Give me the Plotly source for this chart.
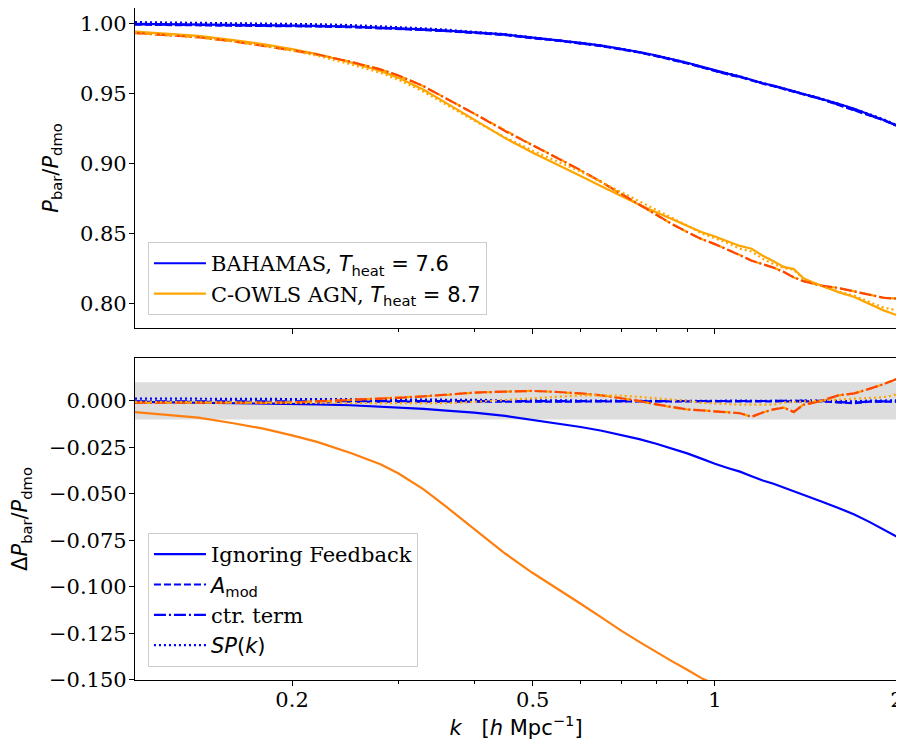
import numpy as np
import plotly.graph_objects as go

# ---------------- data ----------------
k = [0.11, 0.125, 0.14, 0.16, 0.18, 0.2, 0.22, 0.25, 0.28, 0.3, 0.33, 0.36, 0.4, 0.45,
     0.5, 0.55, 0.6, 0.65, 0.7, 0.75, 0.8, 0.85, 0.9, 0.95, 1.0, 1.05, 1.1, 1.15, 1.2,
     1.25, 1.3, 1.35, 1.4, 1.45, 1.5, 1.6, 1.7, 1.8, 1.9, 2.0]

# simulation ratios P_bar / P_dmo
bahamas_sim = [0.9995, 0.9993, 0.9992, 0.9990, 0.9988, 0.9985, 0.9982, 0.9977, 0.9970, 0.9965,
               0.9957, 0.9948, 0.9937, 0.9920, 0.9898, 0.9880, 0.9860, 0.9840, 0.9818, 0.9795,
               0.9770, 0.9745, 0.9718, 0.9690, 0.9662, 0.9640, 0.9620, 0.9595, 0.9572, 0.9555,
               0.9535, 0.9515, 0.9495, 0.9480, 0.9460, 0.9425, 0.9390, 0.9350, 0.9310, 0.9270]
cowls_sim = [0.9940, 0.9925, 0.9910, 0.9880, 0.9850, 0.9815, 0.9780, 0.9720, 0.9660, 0.9610,
             0.9525, 0.9430, 0.9310, 0.9180, 0.9075, 0.8990, 0.8910, 0.8835, 0.8765, 0.8705,
             0.8650, 0.8600, 0.8555, 0.8510, 0.8478, 0.8445, 0.8410, 0.8390, 0.8340, 0.8300,
             0.8260, 0.8245, 0.8180, 0.8150, 0.8125, 0.8080, 0.8045, 0.7995, 0.7950, 0.7915]

# residuals (model - simulation)
bahamas_amod = [-0.0005, -0.0005, -0.0004, -0.0005, -0.0005, -0.0004, -0.0005, -0.0005, -0.0004, -0.0005,
                -0.0005, -0.0004, -0.0005, -0.0004, -0.0005, -0.0004, -0.0005, -0.0004, -0.0005, -0.0004,
                -0.0005, -0.0004, -0.0005, -0.0004, -0.0005, -0.0006, -0.0004, -0.0005, -0.0003, -0.0005,
                -0.0004, -0.0005, -0.0003, -0.0004, -0.0002, -0.0008, -0.0012, -0.0004, -0.0003, -0.0004]
bahamas_ctr = [-0.0002, -0.0002, -0.0003, -0.0002, -0.0003, -0.0002, -0.0003, -0.0002, -0.0003, -0.0002,
               -0.0003, -0.0002, -0.0003, -0.0002, -0.0003, -0.0002, -0.0003, -0.0002, -0.0003, -0.0002,
               -0.0003, -0.0002, -0.0003, -0.0002, -0.0003, -0.0004, -0.0002, -0.0003, -0.0001, -0.0003,
               -0.0002, -0.0003, -0.0001, -0.0002, 0.0000, -0.0006, -0.0010, -0.0002, -0.0001, -0.0002]
bahamas_sp = [0.0013, 0.0013, 0.0012, 0.0012, 0.0012, 0.0011, 0.0011, 0.0010, 0.0009, 0.0008,
              0.0007, 0.0006, 0.0004, 0.0002, 0.0001, 0.0000, 0.0000, 0.0001, 0.0000, -0.0001,
              0.0000, 0.0001, 0.0000, -0.0001, 0.0000, 0.0002, 0.0001, 0.0000, 0.0002, 0.0001,
              0.0000, 0.0001, 0.0003, 0.0002, 0.0002, 0.0000, -0.0002, 0.0002, 0.0004, 0.0003]
cowls_amod = [-0.0010, -0.0010, -0.0010, -0.0010, -0.0010, -0.0008, -0.0003, 0.0005, 0.0012, 0.0017,
              0.0025, 0.0032, 0.0045, 0.0050, 0.0054, 0.0048, 0.0040, 0.0030, 0.0015, 0.0000,
              -0.0018, -0.0035, -0.0046, -0.0050, -0.0055, -0.0060, -0.0065, -0.0086, -0.0062, -0.0045,
              -0.0035, -0.0060, -0.0020, -0.0010, 0.0000, 0.0030, 0.0040, 0.0065, 0.0090, 0.0120]
cowls_ctr = [-0.0009, -0.0010, -0.0010, -0.0009, -0.0010, -0.0008, -0.0003, 0.0005, 0.0011, 0.0017,
             0.0025, 0.0033, 0.0045, 0.0050, 0.0054, 0.0048, 0.0041, 0.0030, 0.0016, 0.0000,
             -0.0018, -0.0034, -0.0046, -0.0051, -0.0055, -0.0060, -0.0066, -0.0085, -0.0062, -0.0045,
             -0.0036, -0.0059, -0.0021, -0.0010, 0.0001, 0.0030, 0.0041, 0.0065, 0.0090, 0.0118]
cowls_sp = [-0.0005, -0.0005, -0.0007, -0.0008, -0.0010, -0.0010, -0.0012, -0.0013, -0.0014, -0.0014,
            -0.0014, -0.0012, -0.0005, 0.0005, 0.0015, 0.0022, 0.0030, 0.0030, 0.0028, 0.0022,
            0.0015, 0.0010, 0.0000, -0.0010, -0.0014, -0.0015, -0.0020, -0.0020, -0.0022, -0.0020,
            -0.0008, -0.0005, -0.0004, 0.0000, 0.0000, 0.0005, 0.0010, 0.0015, 0.0020, 0.0035]

top_yticks = [0.80, 0.85, 0.90, 0.95, 1.00]
bot_yticks = [0.0, -0.025, -0.05, -0.075, -0.1, -0.125, -0.15]
x_ticks = [0.2, 0.5, 1, 2]
x_ticklabels = ["0.2", "0.5", "1", "2"]
x_minor = [0.3, 0.4, 0.6, 0.7, 0.8, 0.9]

# ---------------- styles ----------------
BLUE = "#0000ff"
ORANGE = "#ffa500"
DORANGE = "#ff7f0e"
RED = "#ff4500"
DASH = "7px,3px"
DASHDOT = "12px,3px,2px,3px"
DOT = "2px,3px"
LW = 2.2
SERIF = "DejaVu Serif"
SANS = "DejaVu Sans"

kk = np.array(k)
bsim = np.array(bahamas_sim)
csim = np.array(cowls_sim)


def mspan(s):
    return f"<span style=\"font-family:'{SANS}'\">{s}</span>"


fig = go.Figure()

# ---------- top panel ----------
fig.add_trace(go.Scatter(x=kk, y=bsim, mode="lines", line=dict(color=BLUE, width=LW),
                         name="BAHAMAS, " + mspan("<i>T</i><sub>heat</sub> = 7.6"),
                         legend="legend", xaxis="x", yaxis="y"))
for res, dash in [(bahamas_amod, DASH), (bahamas_ctr, DASHDOT), (bahamas_sp, DOT)]:
    fig.add_trace(go.Scatter(x=kk, y=bsim + np.array(res), mode="lines",
                             line=dict(color=BLUE, width=LW, dash=dash),
                             showlegend=False, xaxis="x", yaxis="y"))
fig.add_trace(go.Scatter(x=kk, y=csim, mode="lines", line=dict(color=ORANGE, width=LW),
                         name="C-OWLS AGN, " + mspan("<i>T</i><sub>heat</sub> = 8.7"),
                         legend="legend", xaxis="x", yaxis="y"))
for res, dash, col in [(cowls_amod, DASH, ORANGE), (cowls_ctr, DASHDOT, RED), (cowls_sp, DOT, ORANGE)]:
    fig.add_trace(go.Scatter(x=kk, y=csim + np.array(res), mode="lines",
                             line=dict(color=col, width=LW, dash=dash),
                             showlegend=False, xaxis="x", yaxis="y"))

# ---------- bottom panel ----------
fig.add_trace(go.Scatter(x=kk, y=bsim - 1.0, mode="lines", line=dict(color=BLUE, width=LW),
                         showlegend=False, xaxis="x2", yaxis="y2"))
fig.add_trace(go.Scatter(x=kk, y=csim - 1.0, mode="lines", line=dict(color=DORANGE, width=LW),
                         showlegend=False, xaxis="x2", yaxis="y2"))
for res, dash in [(bahamas_amod, DASH), (bahamas_ctr, DASHDOT), (bahamas_sp, DOT)]:
    fig.add_trace(go.Scatter(x=kk, y=res, mode="lines", line=dict(color=BLUE, width=LW, dash=dash),
                             showlegend=False, xaxis="x2", yaxis="y2"))
for res, dash, col in [(cowls_amod, DASH, ORANGE), (cowls_ctr, DASHDOT, RED), (cowls_sp, DOT, ORANGE)]:
    fig.add_trace(go.Scatter(x=kk, y=res, mode="lines", line=dict(color=col, width=LW, dash=dash),
                             showlegend=False, xaxis="x2", yaxis="y2"))

# legend-only entries for bottom legend
for nm, dash in [("Ignoring Feedback", "solid"), (mspan("<i>A</i><sub>mod</sub>"), DASH),
                 ("ctr. term", DASHDOT), (mspan("<i>SP</i>(<i>k</i>)"), DOT)]:
    fig.add_trace(go.Scatter(x=[None], y=[None], mode="lines",
                             line=dict(color=BLUE, width=LW, dash=dash),
                             name=nm, legend="legend2", xaxis="x2", yaxis="y2"))

# grey band
fig.add_shape(type="rect", xref="x2 domain", yref="y2", x0=0, x1=1, y0=-0.01, y1=0.01,
              fillcolor="#dddddd", line=dict(width=0), layer="below")

xr = [np.log10(0.11), np.log10(2.0)]
axis_common = dict(showline=True, linecolor="black", linewidth=1.2, mirror=True,
                   ticks="outside", ticklen=5, tickwidth=1.2, tickcolor="black",
                   showgrid=False, zeroline=False, automargin=False,
                   tickfont=dict(family=SERIF, size=21, color="black"))

fig.update_layout(
    width=896, height=736,
    margin=dict(l=127, r=7, t=0, b=64),
    paper_bgcolor="white", plot_bgcolor="white",
    xaxis=dict(type="log", range=xr, domain=[0, 1], anchor="y", matches="x2",
               tickvals=x_ticks, ticktext=x_ticklabels, showticklabels=False,
               minor=dict(tickvals=x_minor, ticks="outside", ticklen=3, tickcolor="black"),
               **axis_common),
    yaxis=dict(range=[0.7824, 1.0109], domain=[0.5238, 1], anchor="x",
               tickvals=top_yticks, ticktext=[f"{v:.2f}" for v in top_yticks],
               ticklabelstandoff=-2,
               title=dict(text="<i>P</i><sub>bar</sub>/<i>P</i><sub>dmo</sub>",
                          font=dict(family=SANS, size=21, color="black")),
               **axis_common),
    xaxis2=dict(type="log", range=xr, domain=[0, 1], anchor="y2",
                tickvals=x_ticks, ticktext=x_ticklabels, ticklabelstandoff=-4,
                ticklabeloverflow="allow",
                minor=dict(tickvals=x_minor, ticks="outside", ticklen=3, tickcolor="black"),
                title=dict(text="<i>k</i>   [<i>h</i> Mpc<sup>−1</sup>]",
                           font=dict(family=SANS, size=21, color="black"), standoff=8),
                **axis_common),
    yaxis2=dict(range=[-0.15, 0.0231], domain=[0, 0.4792], anchor="x2",
                tickvals=bot_yticks, ticklabelstandoff=-2,
                ticktext=[("−" if v < 0 else "") + f"{abs(v):.3f}" for v in bot_yticks],
                title=dict(text="Δ<i>P</i><sub>bar</sub>/<i>P</i><sub>dmo</sub>",
                           font=dict(family=SANS, size=21, color="black")),
                **axis_common),
    legend=dict(x=0.017, y=0.543, xanchor="left", yanchor="bottom", itemwidth=52,
                bgcolor="rgba(255,255,255,0.85)", bordercolor="#cccccc", borderwidth=1,
                font=dict(family=SERIF, size=21, color="black")),
    legend2=dict(x=0.017, y=0.0193, xanchor="left", yanchor="bottom", itemwidth=52,
                 bgcolor="rgba(255,255,255,0.85)", bordercolor="#cccccc", borderwidth=1,
                 font=dict(family=SERIF, size=21, color="black")),
)

fig.write_html("out.html")
